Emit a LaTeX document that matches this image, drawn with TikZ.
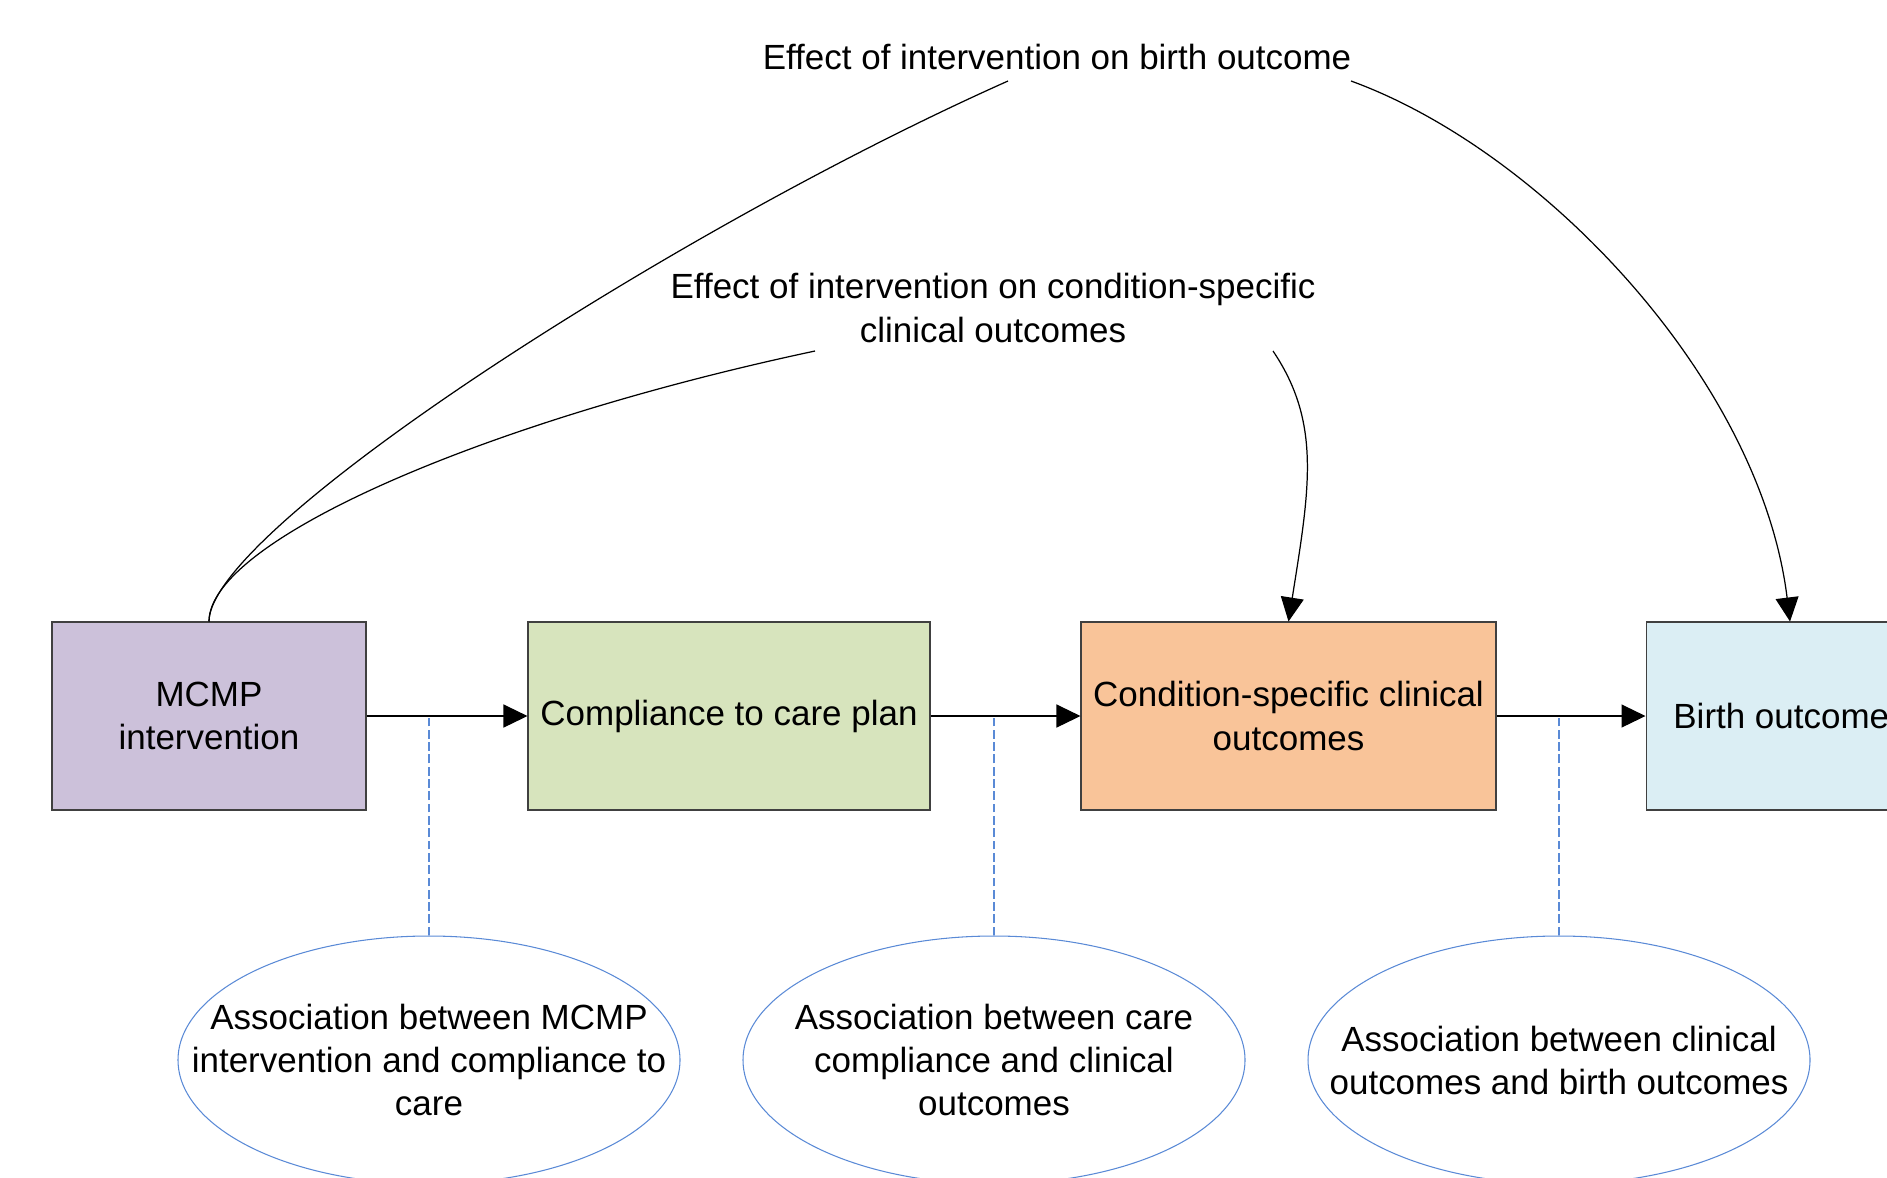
\documentclass[tikz,border=0pt]{standalone}
\usepackage{fontspec}
\setmainfont{Liberation Sans}
\usepackage{tikz}
\usetikzlibrary{
  arrows.meta,
  shapes.geometric
}
\definecolor{boxPurple}{HTML}{CCC1DA}
\definecolor{boxGreen}{HTML}{D7E4BD}
\definecolor{boxOrange}{HTML}{F9C499}
\definecolor{boxBlue}{HTML}{DBEEF4}
\definecolor{linkBlue}{HTML}{5A8AD6}

\begin{document}
\begin{tikzpicture}[
    font=\fontsize{19.9}{24.5}\selectfont,
    box/.style={draw=black!75, line width=0.6pt, minimum height=3.76cm, align=center, inner sep=2pt},
    assoc/.style={ellipse, draw=linkBlue, line width=0.6pt, minimum width=10.04cm, minimum height=4.96cm, inner sep=0pt},
    assoctext/.style={align=center, inner sep=0pt},
    arr/.style={line width=0.7pt, -{Triangle[length=0.48cm, width=0.46cm]}},
    link/.style={linkBlue, line width=0.8pt, dash pattern=on 5pt off 2pt}
  ]
      \useasboundingbox (0,0) rectangle (37.74,-23.54);

      % 四つの箱
      \node[box, fill=boxPurple, minimum width=6.28cm] (mcmp) at (4.18,-14.32) {MCMP\\intervention};
      \node[box, fill=boxGreen, minimum width=8.04cm] (comp) at (14.58,-14.32) {Compliance to care plan};
      \node[box, fill=boxOrange, minimum width=8.3cm] (cond) at (25.77,-14.32) {Condition-specific clinical\\outcomes};
      \node[box, fill=boxBlue, minimum width=5.76cm] (birth) at (35.8,-14.32) {Birth outcomes};

      % 上のラベル
      \node (effbirth) at (21.14,-1.14) {Effect of intervention on birth outcome};
      \node[align=center] (effcond) at (19.86,-6.16) {Effect of intervention on condition-specific\\clinical outcomes};

      % ラベルの端の点
      \coordinate (c1) at (20.16,-1.62);
      \coordinate (c2) at (27.02,-1.62);
      \coordinate (c3) at (16.3,-7.02);
      \coordinate (c4) at (25.46,-7.02);

      % 下の楕円
      \node[assoc, label={[assoctext]center:Association between MCMP\\intervention and compliance to\\care}] (assoc1) at (8.58,-21.2) {};
      \node[assoc, label={[assoctext]center:Association between care\\compliance and clinical\\outcomes}] (assoc2) at (19.88,-21.2) {};
      \node[assoc, label={[assoctext]center:Association between clinical\\outcomes and birth outcomes}] (assoc3) at (31.18,-21.2) {};

      % 箱の間の矢印
      \draw[arr] (mcmp) -- (comp);
      \draw[arr] (comp) -- (cond);
      \draw[arr] (cond) -- (birth);

      % 矢印と楕円を結ぶ点線
      \draw[link] (assoc1.north) -- (assoc1.north |- mcmp.east);
      \draw[link] (assoc2.north) -- (assoc2.north |- comp.east);
      \draw[link] (assoc3.north) -- (assoc3.north |- cond.east);

      % MCMPから出生の結果への曲線
      \draw[line width=0.7pt] (mcmp.north) to[out=90, in=-156, out distance=1.85cm, in distance=7.3cm] (c1);
      \draw[arr] (c2) to[out=-20, in=97, out distance=4.1cm, in distance=4.85cm] (birth.north);

      % MCMPから臨床結果への曲線
      \draw[line width=0.7pt] (mcmp.north) to[out=90, in=-168, out distance=1.61cm, in distance=6.81cm] (c3);
      \draw[arr] (c4) to[out=-56, in=81, out distance=1.74cm, in distance=2.68cm] (cond.north);
\end{tikzpicture}
\end{document}
